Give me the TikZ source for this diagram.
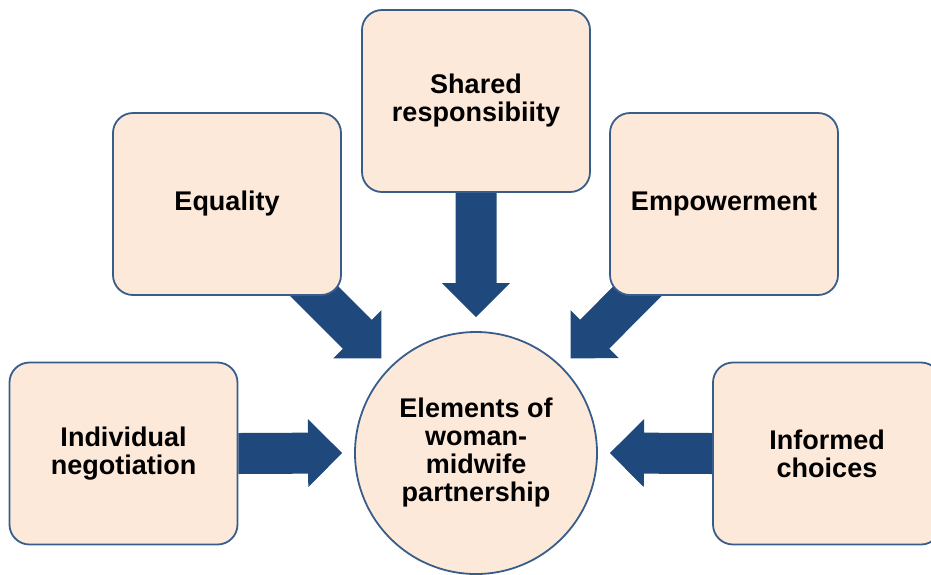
\documentclass[tikz,border=0pt]{standalone}
\usepackage{fontspec}
\setmainfont{Liberation Sans}
\usetikzlibrary{calc,backgrounds}
\definecolor{boxfill}{RGB}{253,233,217}
\definecolor{boxline}{RGB}{56,93,138}
\definecolor{arrowblue}{RGB}{31,73,125}
% block arrow from #1 (start) to #2 (tip)
\newcommand\blkarrow[2]{%
  \path coordinate (ba-s) at (#1) coordinate (ba-t) at (#2);
  \path coordinate (ba-b) at ($(ba-t)!34pt!(ba-s)$);
  \fill[arrowcol]
    ($(ba-s)!20.5pt!-90:(ba-t)$) -- ($(ba-b)!20.5pt!90:(ba-s)$) --
    ($(ba-b)!34pt!90:(ba-s)$) -- (ba-t) -- ($(ba-b)!34pt!-90:(ba-s)$) --
    ($(ba-b)!20.5pt!-90:(ba-s)$) -- ($(ba-s)!20.5pt!90:(ba-t)$) -- cycle;}
\begin{document}
\begin{tikzpicture}[x=1pt,y=-1pt,
  txt/.style={align=center, font=\fontsize{27}{28}\selectfont\bfseries, inner sep=0pt},
  box/.style={txt, draw=boxline, line width=1.8pt, fill=boxfill, rounded corners=20pt,
    minimum width=228pt, minimum height=182pt},
  hubstyle/.style={txt, circle, draw=boxline, line width=1.8pt, fill=boxfill, minimum size=242pt},
  arrowcol/.style={fill=arrowblue}]
\useasboundingbox (0,0) rectangle (931,574);
\node[hubstyle] (hub) at (476,453) {Elements of\\woman-\\midwife\\partnership};
\node[box] (neg) at (123.5,453.5) {Individual\\negotiation};
\node[box] (eq) at (227,204) {Equality};
\node[box] (sh) at (476,101) {Shared\\responsibiity};
\node[box] (emp) at (724,204) {Empowerment};
\node[box] (inf) at (827,453.5) {Informed\\choices};
\begin{scope}[on background layer]
  \blkarrow{neg.east}{$(hub.west)!-12pt!(hub.center)$}
  \blkarrow{inf.west}{$(hub.east)!-12pt!(hub.center)$}
  \blkarrow{sh.south}{$(hub.north)!-14pt!(hub.center)$}
  \blkarrow{eq.center}{$(hub.135)!-12pt!(hub.center)$}
  \blkarrow{emp.center}{$(hub.45)!-12pt!(hub.center)$}
\end{scope}
\end{tikzpicture}
\end{document}
